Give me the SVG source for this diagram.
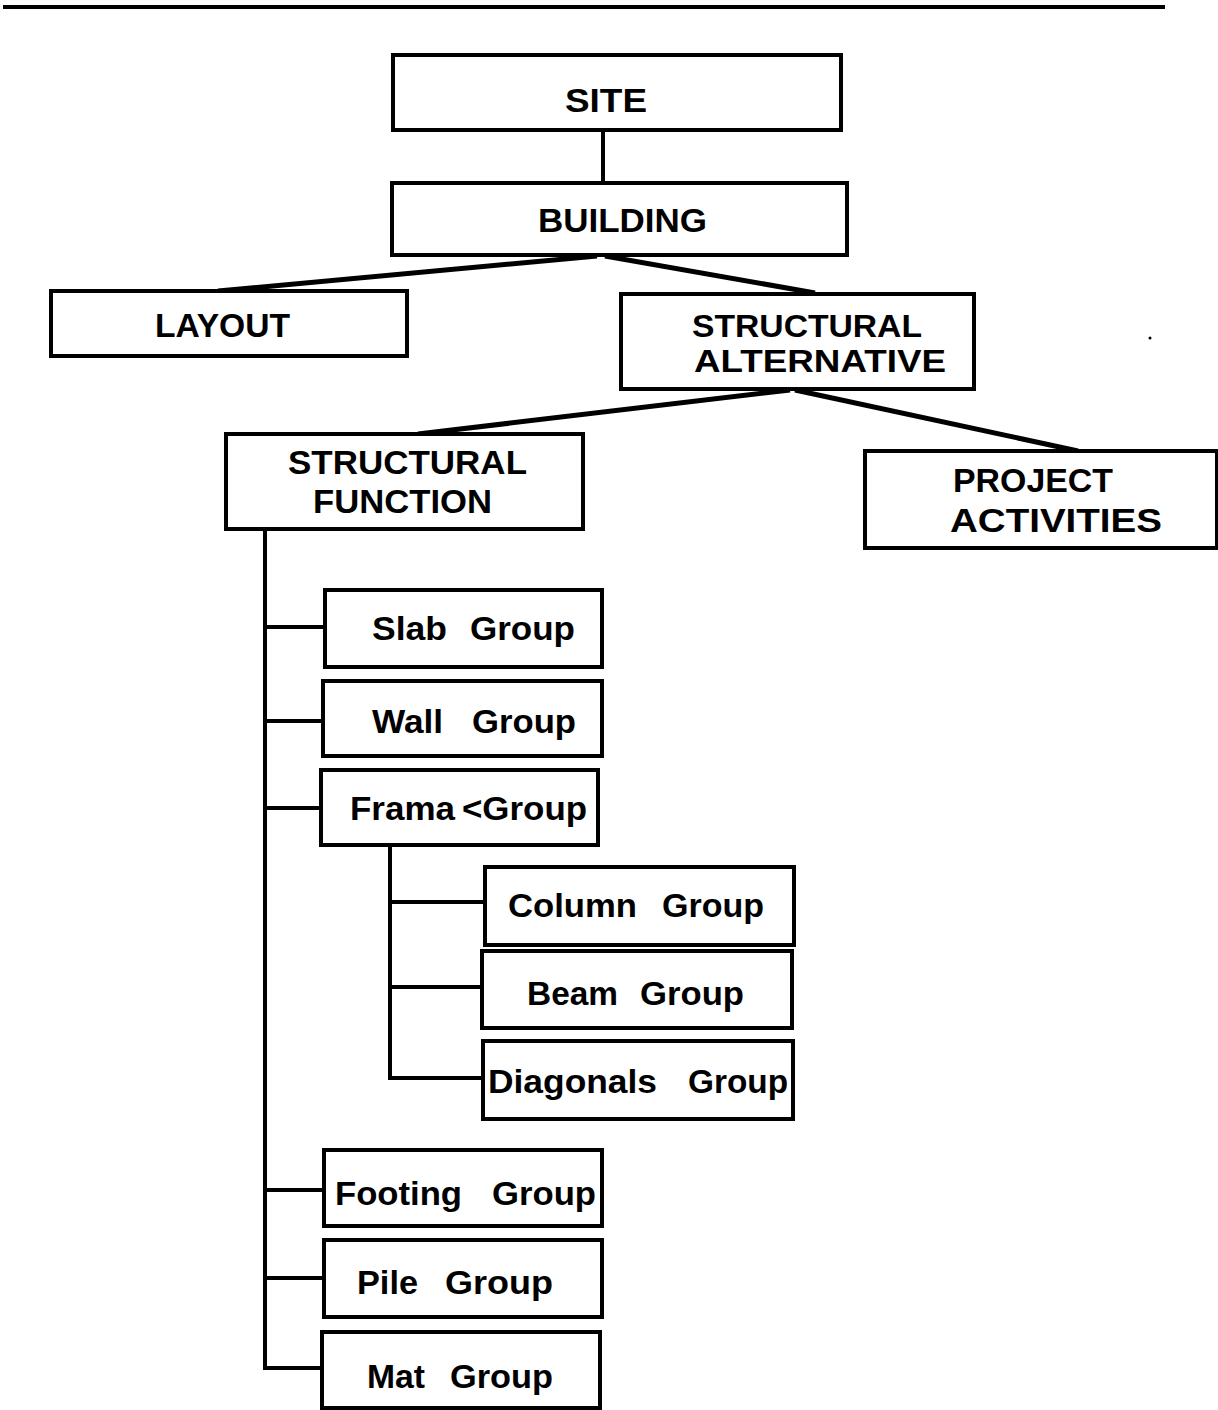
<svg xmlns="http://www.w3.org/2000/svg" width="1218" height="1410" viewBox="0 0 1218 1410">
<style>
.box{fill:#fff;stroke:#000;stroke-width:4}
.ln{fill:none;stroke:#000;stroke-width:4}
.t{font-family:"Liberation Sans",Arial,sans-serif;font-weight:bold;font-size:34px;fill:#000}
.t2{font-size:31px}
</style>
<rect width="1218" height="1410" fill="#fff"/>
<line x1="3" y1="7" x2="1165" y2="7" stroke="#000" stroke-width="4"/>
<g id="connectors" class="ln">
<line x1="603" y1="130" x2="603" y2="183"/>
<line x1="597" y1="256" x2="218" y2="291" stroke-width="5"/>
<line x1="605" y1="256" x2="815" y2="293" stroke-width="5"/>
<line x1="790" y1="390" x2="418" y2="434" stroke-width="5"/>
<line x1="795" y1="390" x2="1078" y2="451" stroke-width="5"/>
<polyline points="265,529 265,1368 322,1368"/>
<line x1="265" y1="627" x2="325" y2="627"/>
<line x1="265" y1="721" x2="323" y2="721"/>
<line x1="265" y1="808" x2="322" y2="808"/>
<line x1="265" y1="1190" x2="323" y2="1190"/>
<line x1="265" y1="1278" x2="323" y2="1278"/>
<polyline points="390,845 390,1078 483,1078"/>
<line x1="390" y1="902" x2="485" y2="902"/>
<line x1="390" y1="987" x2="482" y2="987"/>
</g>
<g id="site"><rect class="box" x="393" y="55" width="448" height="75"/><text class="t" x="565" y="112" textLength="82" lengthAdjust="spacingAndGlyphs">SITE</text></g>
<g id="building"><rect class="box" x="392" y="183" width="455" height="72"/><text class="t" x="538" y="232" textLength="169" lengthAdjust="spacingAndGlyphs">BUILDING</text></g>
<g id="layout"><rect class="box" x="51" y="291" width="356" height="65"/><text class="t" x="155" y="337" textLength="135" lengthAdjust="spacingAndGlyphs">LAYOUT</text></g>
<g id="structural-alternative"><rect class="box" x="621" y="294" width="353" height="95"/><text class="t t2"><tspan x="692" y="337" textLength="230" lengthAdjust="spacingAndGlyphs">STRUCTURAL</tspan><tspan x="694" y="372" textLength="252" lengthAdjust="spacingAndGlyphs">ALTERNATIVE</tspan></text></g>
<g id="structural-function"><rect class="box" x="226" y="434" width="357" height="95"/><text class="t"><tspan x="288" y="474" textLength="239" lengthAdjust="spacingAndGlyphs">STRUCTURAL</tspan><tspan x="313" y="513" textLength="179" lengthAdjust="spacingAndGlyphs">FUNCTION</tspan></text></g>
<g id="project-activities"><rect class="box" x="865" y="451" width="352" height="97"/><text class="t"><tspan x="953" y="492" textLength="160" lengthAdjust="spacingAndGlyphs">PROJECT</tspan><tspan x="950" y="532" textLength="212" lengthAdjust="spacingAndGlyphs">ACTIVITIES</tspan></text></g>
<g id="slab"><rect class="box" x="325" y="590" width="277" height="77"/><text class="t" y="640"><tspan x="372" textLength="75" lengthAdjust="spacingAndGlyphs">Slab</tspan><tspan x="470" textLength="105" lengthAdjust="spacingAndGlyphs">Group</tspan></text></g>
<g id="wall"><rect class="box" x="323" y="681" width="279" height="75"/><text class="t" y="733"><tspan x="372" textLength="71" lengthAdjust="spacingAndGlyphs">Wall</tspan><tspan x="472" textLength="104" lengthAdjust="spacingAndGlyphs">Group</tspan></text></g>
<g id="frame"><rect class="box" x="321" y="770" width="277" height="75"/><text class="t" y="820"><tspan x="350" textLength="105" lengthAdjust="spacingAndGlyphs">Frama</tspan><tspan x="462" textLength="125" lengthAdjust="spacingAndGlyphs">&lt;Group</tspan></text></g>
<g id="column"><rect class="box" x="485" y="867" width="309" height="78"/><text class="t" y="917"><tspan x="508" textLength="129" lengthAdjust="spacingAndGlyphs">Column</tspan><tspan x="662" textLength="102" lengthAdjust="spacingAndGlyphs">Group</tspan></text></g>
<g id="beam"><rect class="box" x="482" y="951" width="310" height="77"/><text class="t" y="1005"><tspan x="527" textLength="91" lengthAdjust="spacingAndGlyphs">Beam</tspan><tspan x="640" textLength="104" lengthAdjust="spacingAndGlyphs">Group</tspan></text></g>
<g id="diagonals"><rect class="box" x="483" y="1041" width="310" height="78"/><text class="t" y="1093"><tspan x="488" textLength="169" lengthAdjust="spacingAndGlyphs">Diagonals</tspan><tspan x="688" textLength="100" lengthAdjust="spacingAndGlyphs">Group</tspan></text></g>
<g id="footing"><rect class="box" x="324" y="1150" width="278" height="76"/><text class="t" y="1205"><tspan x="335" textLength="127" lengthAdjust="spacingAndGlyphs">Footing</tspan><tspan x="492" textLength="104" lengthAdjust="spacingAndGlyphs">Group</tspan></text></g>
<g id="pile"><rect class="box" x="324" y="1240" width="278" height="77"/><text class="t" y="1294"><tspan x="357" textLength="61" lengthAdjust="spacingAndGlyphs">Pile</tspan><tspan x="445" textLength="108" lengthAdjust="spacingAndGlyphs">Group</tspan></text></g>
<g id="mat"><rect class="box" x="322" y="1332" width="278" height="76"/><text class="t" y="1388"><tspan x="367" textLength="58" lengthAdjust="spacingAndGlyphs">Mat</tspan><tspan x="450" textLength="103" lengthAdjust="spacingAndGlyphs">Group</tspan></text></g>
<circle cx="1150" cy="338" r="1.5" fill="#000"/>
</svg>
